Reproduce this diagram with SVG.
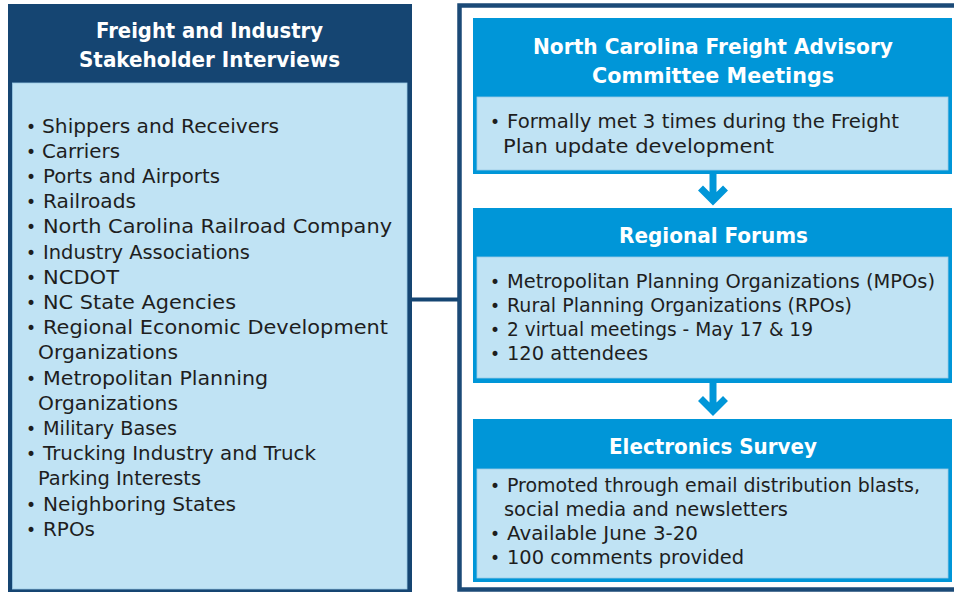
<svg xmlns="http://www.w3.org/2000/svg" width="954" height="592" viewBox="0 0 954 592">
<defs>
<style>
.navy{fill:#154572}
.blue{fill:#0096d8}
.light{fill:#c0e3f4;stroke:#9ccbe6;stroke-width:0.8}
.hd{font-family:"DejaVu Sans","Liberation Sans",sans-serif;font-weight:bold;fill:#ffffff;text-anchor:middle}
.bd{font-family:"DejaVu Sans","Liberation Sans",sans-serif;font-size:19.5px;fill:#1e1e1e}
.bu{font-family:"DejaVu Sans","Liberation Sans",sans-serif;font-size:17px;fill:#1e1e1e;text-anchor:middle}
.conn{stroke:#154572;stroke-width:4;fill:none}
.arr{stroke:#0096d8;stroke-width:7;fill:none;stroke-linejoin:miter;stroke-miterlimit:4}
</style>
</defs>
<rect x="0" y="0" width="954" height="592" fill="#ffffff"/>

<g id="stakeholder-interviews">
<rect class="navy" x="8" y="4" width="404" height="592"/>
<rect class="light" x="12.5" y="83" width="394.5" height="506"/>
<text class="hd" font-size="20.5" x="209.5" y="37.5" textLength="227" lengthAdjust="spacingAndGlyphs">Freight and Industry</text>
<text class="hd" font-size="20.5" x="209.5" y="66.5" textLength="261" lengthAdjust="spacingAndGlyphs">Stakeholder Interviews</text>
<g>
<text class="bu" x="31" y="132.6">•</text><text class="bd" x="42" y="132.6" textLength="237" lengthAdjust="spacingAndGlyphs">Shippers and Receivers</text>
<text class="bu" x="31" y="157.8">•</text><text class="bd" x="42" y="157.8" textLength="78" lengthAdjust="spacingAndGlyphs">Carriers</text>
<text class="bu" x="31" y="183">•</text><text class="bd" x="43" y="183" textLength="177" lengthAdjust="spacingAndGlyphs">Ports and Airports</text>
<text class="bu" x="31" y="208.2">•</text><text class="bd" x="43" y="208.2" textLength="93" lengthAdjust="spacingAndGlyphs">Railroads</text>
<text class="bu" x="31" y="233.4">•</text><text class="bd" x="43" y="233.4" textLength="349" lengthAdjust="spacingAndGlyphs">North Carolina Railroad Company</text>
<text class="bu" x="31" y="258.6">•</text><text class="bd" x="43" y="258.6" textLength="207" lengthAdjust="spacingAndGlyphs">Industry Associations</text>
<text class="bu" x="31" y="283.8">•</text><text class="bd" x="43" y="283.8" textLength="76" lengthAdjust="spacingAndGlyphs">NCDOT</text>
<text class="bu" x="31" y="309">•</text><text class="bd" x="43" y="309" textLength="193" lengthAdjust="spacingAndGlyphs">NC State Agencies</text>
<text class="bu" x="31" y="334.2">•</text><text class="bd" x="43" y="334.2" textLength="345" lengthAdjust="spacingAndGlyphs">Regional Economic Development</text>
<text class="bd" x="38" y="359.4" textLength="140" lengthAdjust="spacingAndGlyphs">Organizations</text>
<text class="bu" x="31" y="384.6">•</text><text class="bd" x="43" y="384.6" textLength="225" lengthAdjust="spacingAndGlyphs">Metropolitan Planning</text>
<text class="bd" x="38" y="409.8" textLength="140" lengthAdjust="spacingAndGlyphs">Organizations</text>
<text class="bu" x="31" y="435">•</text><text class="bd" x="43" y="435" textLength="134" lengthAdjust="spacingAndGlyphs">Military Bases</text>
<text class="bu" x="31" y="460.2">•</text><text class="bd" x="43" y="460.2" textLength="273" lengthAdjust="spacingAndGlyphs">Trucking Industry and Truck</text>
<text class="bd" x="38" y="485.4" textLength="163" lengthAdjust="spacingAndGlyphs">Parking Interests</text>
<text class="bu" x="31" y="510.6">•</text><text class="bd" x="43" y="510.6" textLength="193" lengthAdjust="spacingAndGlyphs">Neighboring States</text>
<text class="bu" x="31" y="535.8">•</text><text class="bd" x="43" y="535.8" textLength="52" lengthAdjust="spacingAndGlyphs">RPOs</text>
</g>
</g>

<g id="right-container">
<rect x="459.5" y="5.5" width="500" height="584" fill="#ffffff" stroke="#1b4a77" stroke-width="4.5"/>
</g>

<g id="advisory-committee">
<rect class="blue" x="473" y="18" width="479" height="156"/>
<rect class="light" x="477" y="97" width="471" height="73"/>
<text class="hd" font-size="22" x="713" y="53.5" textLength="360" lengthAdjust="spacingAndGlyphs">North Carolina Freight Advisory</text>
<text class="hd" font-size="22" x="713" y="82.5" textLength="242" lengthAdjust="spacingAndGlyphs">Committee Meetings</text>
<text class="bu" x="495" y="128.3">•</text><text class="bd" x="507" y="128.3" textLength="392" lengthAdjust="spacingAndGlyphs">Formally met 3 times during the Freight</text>
<text class="bd" x="503" y="153.3" textLength="271" lengthAdjust="spacingAndGlyphs">Plan update development</text>
</g>

<g id="regional-forums">
<rect class="blue" x="473" y="208" width="479" height="175"/>
<rect class="light" x="477" y="257" width="471" height="121"/>
<text class="hd" font-size="22" x="713.5" y="242.5" textLength="189" lengthAdjust="spacingAndGlyphs">Regional Forums</text>
<text class="bu" x="495" y="287.5">•</text><text class="bd" x="507" y="287.5" textLength="428" lengthAdjust="spacingAndGlyphs">Metropolitan Planning Organizations (MPOs)</text>
<text class="bu" x="495" y="311.8">•</text><text class="bd" x="507" y="311.8" textLength="345" lengthAdjust="spacingAndGlyphs">Rural Planning Organizations (RPOs)</text>
<text class="bu" x="495" y="336">•</text><text class="bd" x="507" y="336" textLength="306" lengthAdjust="spacingAndGlyphs">2 virtual meetings - May 17 &amp; 19</text>
<text class="bu" x="495" y="360">•</text><text class="bd" x="507" y="360" textLength="141" lengthAdjust="spacingAndGlyphs">120 attendees</text>
</g>

<g id="electronics-survey">
<rect class="blue" x="473" y="419" width="479" height="163"/>
<rect class="light" x="477" y="469" width="471" height="109"/>
<text class="hd" font-size="22" x="713" y="454" textLength="208" lengthAdjust="spacingAndGlyphs">Electronics Survey</text>
<text class="bu" x="495" y="491.5">•</text><text class="bd" x="507" y="491.5" textLength="413" lengthAdjust="spacingAndGlyphs">Promoted through email distribution blasts,</text>
<text class="bd" x="504" y="515.5" textLength="284" lengthAdjust="spacingAndGlyphs">social media and newsletters</text>
<text class="bu" x="495" y="539.5">•</text><text class="bd" x="507" y="539.5" textLength="191" lengthAdjust="spacingAndGlyphs">Available June 3-20</text>
<text class="bu" x="495" y="563.5">•</text><text class="bd" x="507" y="563.5" textLength="237" lengthAdjust="spacingAndGlyphs">100 comments provided</text>
</g>

<g id="connectors">
<line class="conn" x1="412" y1="299.5" x2="458" y2="299.5"/>
<path class="arr" d="M713 174 V199 M700.5 188 L713 200.5 L725.5 188"/>
<path class="arr" d="M713 383 V409 M700.5 398.5 L713 411 L725.5 398.5"/>
</g>
</svg>
